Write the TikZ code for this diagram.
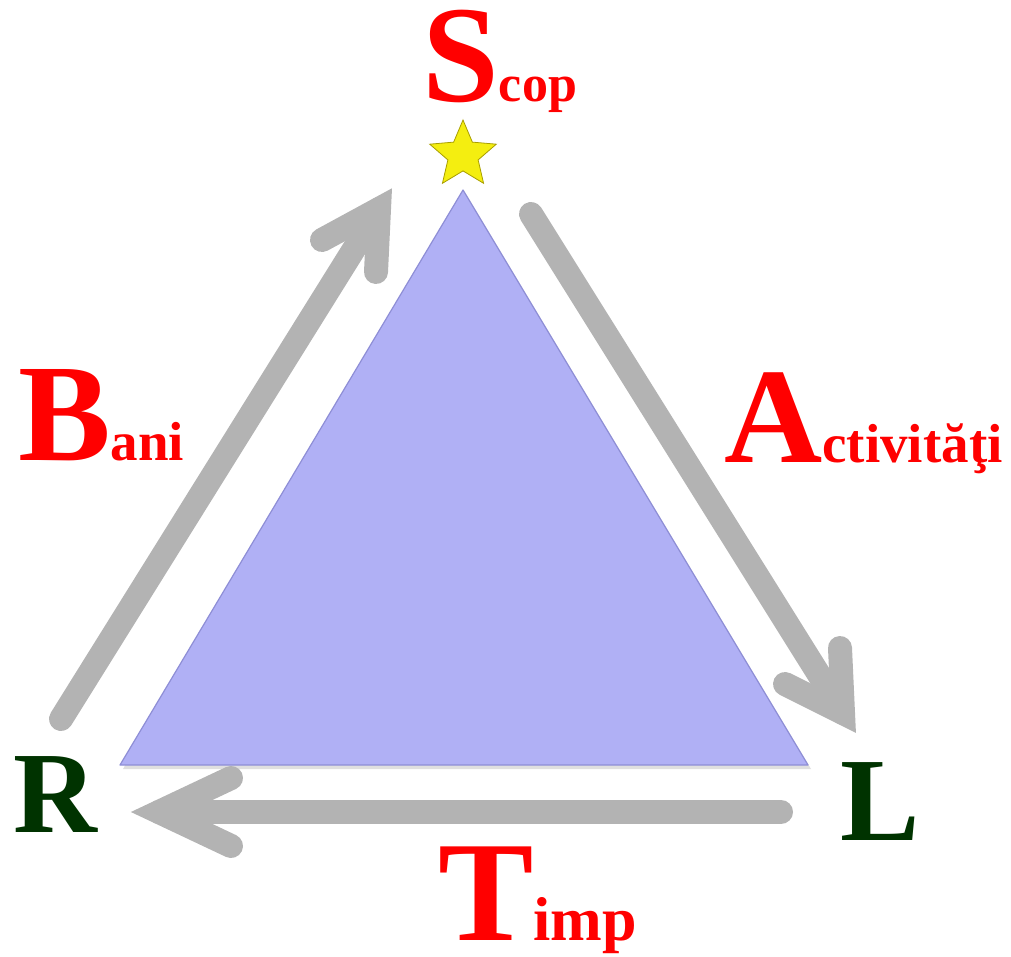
\documentclass[tikz,border=0pt]{standalone}
\usepackage{fontspec}
\setmainfont{Liberation Serif}
\usetikzlibrary{shapes.geometric,shadows}
\definecolor{tri}{HTML}{B0B0F5}
\definecolor{triedge}{HTML}{8E8ED6}
\definecolor{arr}{HTML}{B3B3B3}
\definecolor{txtred}{HTML}{FF0000}
\definecolor{txtgreen}{HTML}{003300}
\definecolor{staryel}{HTML}{F4EE10}
\definecolor{staredge}{HTML}{A89E00}
\tikzset{
  grayarrow/.style={draw=arr, line width=24pt, line cap=round, line join=miter},
  biglabel/.style={inner sep=0pt, anchor=base west, text=txtred, font=\bfseries},
  cornerlabel/.style={inner sep=0pt, anchor=base west, text=txtgreen, font=\bfseries},
}
\newcommand{\bigsmall}[4]{\fontsize{#1}{#1}\selectfont #2\fontsize{#3}{#3}\selectfont #4}
\begin{document}
\begin{tikzpicture}[x=1pt,y=-1pt]
\useasboundingbox (0,0) rectangle (1011,957);
% triangle
\coordinate (apex) at (463,190);
\coordinate (bl) at (120,765);
\coordinate (br) at (808,765);
\fill[tri, draw=triedge, line width=1.2pt, line join=round,
  drop shadow={opacity=0.25, shadow xshift=3pt, shadow yshift=-4pt}]
  (apex) -- (br) -- (bl) -- cycle;
% star
\node[star, star points=5, star point ratio=2.2, minimum size=70pt, inner sep=0pt,
  fill=staryel, draw=staredge, line width=0.8pt] (star1) at (463,155) {};
% left arrow (R -> S)
\coordinate (la0) at (61,719);
\coordinate (la1) at (379,209);
\coordinate (la2) at (322,240);
\coordinate (la3) at (376,272);
\draw[grayarrow] (la0) -- (la1);
\draw[grayarrow] (la2) -- (la1) -- (la3);
% right arrow (S -> L)
\coordinate (ra0) at (531,214);
\coordinate (ra1) at (843,713);
\coordinate (ra2) at (840,648);
\coordinate (ra3) at (785,684);
\draw[grayarrow] (ra0) -- (ra1);
\draw[grayarrow] (ra2) -- (ra1) -- (ra3);
% bottom arrow (L -> R)
\coordinate (ba0) at (781,812);
\coordinate (ba1) at (159,812);
\coordinate (ba2) at (231,778);
\coordinate (ba3) at (231,846);
\draw[grayarrow] (ba0) -- (ba1);
\draw[grayarrow] (ba2) -- (ba1) -- (ba3);
% labels
\node[biglabel] (scop) at (422,102) {\bigsmall{138}{S}{52}{cop}};
\node[biglabel] (bani) at (18,460) {\bigsmall{139}{B}{55}{ani}};
\node[biglabel] (activ) at (724,462) {\bigsmall{136}{A}{55}{ctivităţi}};
\node[biglabel] (timp) at (438,940) {\bigsmall{143}{T}{62}{imp}};
\node[cornerlabel] (R) at (13,832) {\fontsize{116}{116}\selectfont R};
\node[cornerlabel] (L) at (840,840) {\fontsize{119}{119}\selectfont L};
\end{tikzpicture}
\end{document}
